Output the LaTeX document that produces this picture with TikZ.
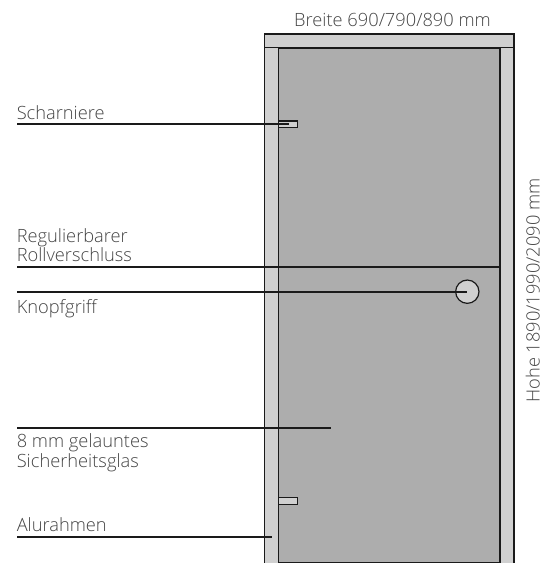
\documentclass[tikz,border=0pt]{standalone}
\usepackage{fontspec}
\setmainfont{Open Sans Light}
\definecolor{framegray}{HTML}{D0D0D0}
\definecolor{glassgray}{HTML}{ADADAD}
\definecolor{inkgray}{HTML}{1A1A1A}
\definecolor{textgray}{HTML}{444444}
\tikzset{
  part/.style={draw=inkgray,line width=0.9pt},
  leader/.style={draw=inkgray,line width=1.3pt},
  label/.style={inner sep=0pt,text=textgray,font=\fontsize{13.7}{14.4}\selectfont,align=left},
}
\begin{document}
\begin{tikzpicture}[x=0.75pt,y=-0.75pt]
      \useasboundingbox (0,0) rectangle (547,563);
      \filldraw[part,fill=glassgray] (278.5,48) rectangle (500,563);
      \filldraw[part,fill=framegray] (264.5,34) rectangle (514,48);
      \fill[framegray] (264.5,48) rectangle (278.5,563);
      \fill[framegray] (500,48) rectangle (514,563);
      \draw[part] (264.5,563) -- (264.5,48) (278.5,563) -- (278.5,48)
        (514,563) -- (514,48);
      \draw[part,line width=0.6pt] (500,563) -- (500,48);
      \filldraw[part,fill=framegray] (278.5,121) rectangle (297.5,127.5);
      \filldraw[part,fill=framegray] (278.5,497.5) rectangle (297.5,504.3);
      \node[part,fill=framegray,circle,minimum size=17.5pt,inner sep=0pt] (knob) at (467.3,291.7) {};
      \draw
        (17,124) coordinate (a0)
        (289,124) coordinate (a1)
        (17,267) coordinate (b0)
        (500,267) coordinate (b1)
        (17,292) coordinate (c0)
        (467,292) coordinate (c1)
        (17,428) coordinate (d0)
        (331,428) coordinate (d1)
        (17,537) coordinate (e0)
        (272,537) coordinate (e1);
      \begin{scope}[leader]
        \draw (a0) to (a1);
        \draw (b0) to (b1);
        \draw (c0) to (c1);
        \draw (d0) to (d1);
        \draw (e0) to (e1);
      \end{scope}
      \node[label,anchor=base] (breite) at (392.5,27) {Breite 690/790/890 mm};
      \node[label,anchor=base,rotate=90] (hoehe) at (539.5,290.5) {Hohe 1890/1990/2090 mm};
      \node[label,anchor=base west] (scharniere) at (16.5,119.5) {Scharniere};
      \node[label,anchor=base west] (rollo) at (16.5,261.5) {Regulierbarer\\Rollverschluss};
      \node[label,anchor=base west] (griff) at (16.5,313) {Knopfgriff};
      \node[label,anchor=base west] (glas) at (16.5,467) {8 mm gelauntes\\Sicherheitsglas};
      \node[label,anchor=base west] (rahmen) at (16.5,531.7) {Alurahmen};
    \end{tikzpicture}
\end{document}
